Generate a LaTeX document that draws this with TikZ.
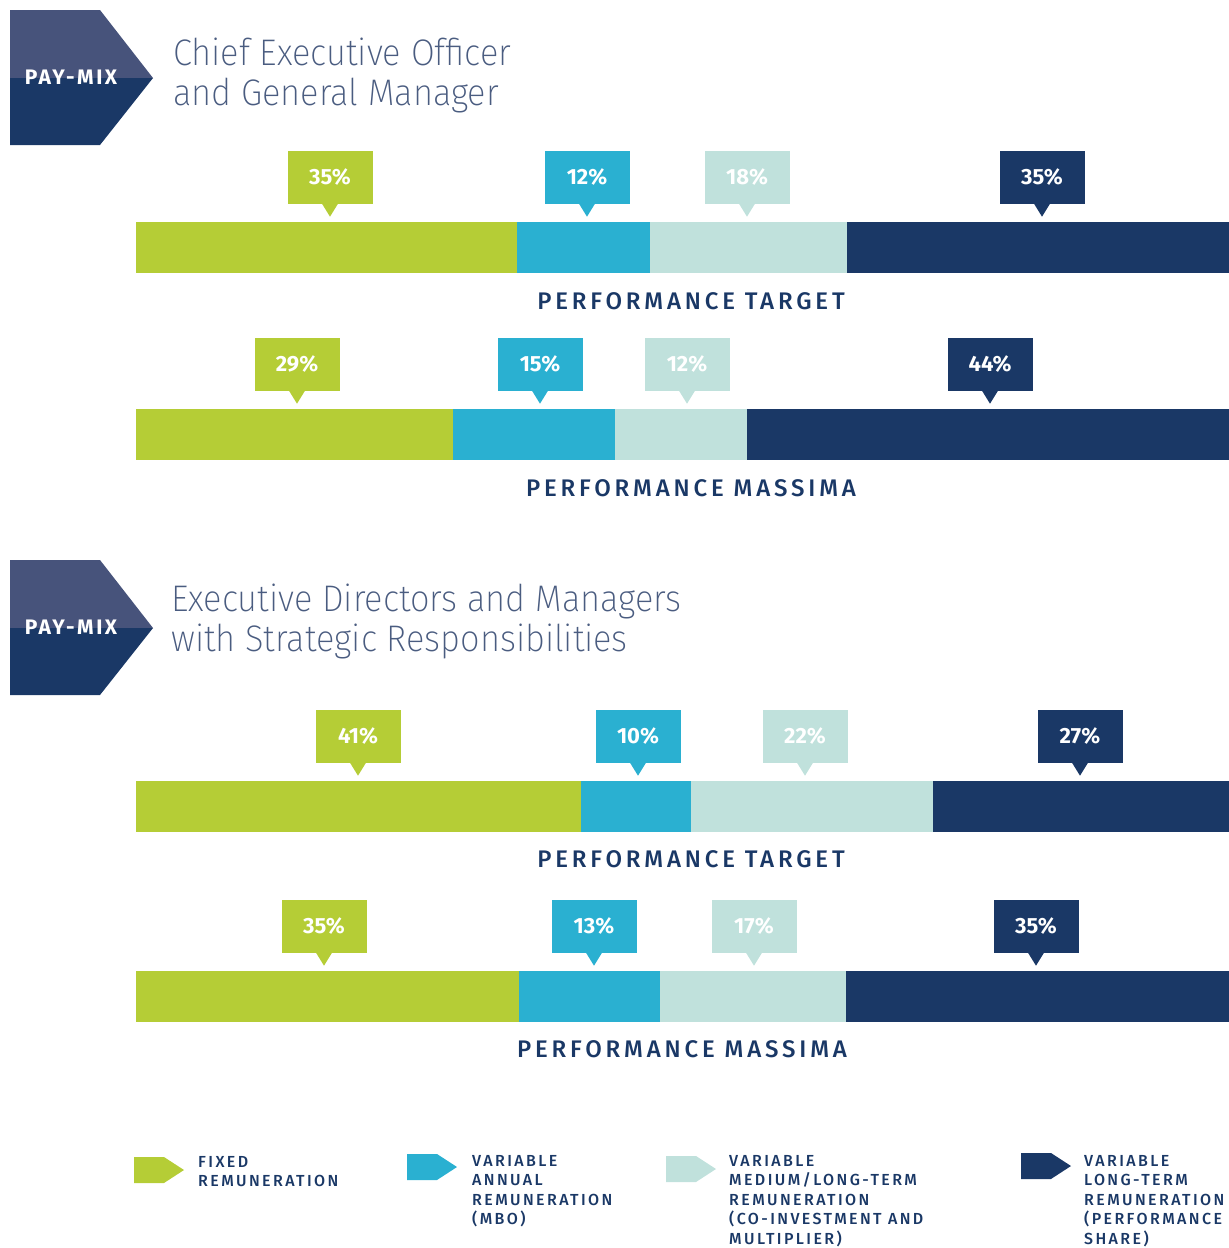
\documentclass[tikz,border=0pt]{standalone}
\usepackage{fontspec}
\setmainfont{Fira Sans}
\newfontfamily\thinfont{Fira Sans ExtraLight}[FakeStretch=0.93]
\newfontfamily\spacedfont{Fira Sans Medium}[LetterSpace=16]
\newfontfamily\legendfont{Fira Sans Medium}[LetterSpace=15]
\newfontfamily\badgefont{Fira Sans}[LetterSpace=12]
\definecolor{fixgreen}{HTML}{B5CD36}
\definecolor{mbocyan}{HTML}{2AB0D1}
\definecolor{mltpale}{HTML}{C0E1DC}
\definecolor{ltinavy}{HTML}{1A3866}
\definecolor{badgetop}{HTML}{47537B}
\definecolor{titlegray}{HTML}{4A5C80}
\tikzstyle{tag} = [rectangle, minimum width=85pt, minimum height=53pt, inner sep=0pt,
    text=white, font=\fontsize{22}{22}\selectfont\bfseries]
\tikzstyle{barlabel} = [text=ltinavy, inner sep=0pt, font=\fontsize{24}{24}\selectfont\spacedfont]
\tikzstyle{heading} = [text=titlegray, anchor=north west, align=left, inner sep=0pt,
    font=\fontsize{37}{40}\selectfont\thinfont]
\tikzstyle{badgetext} = [text=white, inner sep=0pt, font=\fontsize{21}{21}\selectfont\badgefont\bfseries]
\tikzstyle{legendtext} = [text=ltinavy, anchor=north west, align=left, inner sep=0pt,
    font=\fontsize{16}{19.5}\selectfont\legendfont]

\begin{document}
\begin{tikzpicture}[x=1pt, y=-1pt]
    \useasboundingbox (0,0) rectangle (1229,1248);
    % badges and headings
    \foreach \top/\nm in {10/ceo, 560/exe} {
        \fill[badgetop] (10,\top) -- (100,\top) -- (153,\top+68) -- (10,\top+68) -- cycle;
        \fill[ltinavy] (10,\top+68) -- (153,\top+68) -- (100,\top+135) -- (10,\top+135) -- cycle;
        \node[badgetext] (badge-\nm) at (71,\top+67) {PAY-MIX};
    }
    \node[heading] (head-ceo) at (173,38) {Chief Executive Officer\\and General Manager};
    \node[heading] (head-exe) at (171,584) {Executive Directors and Managers\\with Strategic Responsibilities};
    % bars
    \foreach \y/\a/\b/\c in {222/517/650/847, 409/453/615/747, 781/581/691/933, 971/519/660/846} {
        \fill[fixgreen] (136,\y) rectangle (\a,\y+51);
        \fill[mbocyan] (\a,\y) rectangle (\b,\y+51);
        \fill[mltpale] (\b,\y) rectangle (\c,\y+51);
        \fill[ltinavy] (\c,\y) rectangle (1229,\y+51);
    }
    % callouts
    \foreach \nm/\x/\y/\col/\val in {
        ceoTa/330/177/fixgreen/35, ceoTb/587/177/mbocyan/12, ceoTc/747/177/mltpale/18, ceoTd/1042/177/ltinavy/35,
        ceoMa/297/364/fixgreen/29, ceoMb/540/364/mbocyan/15, ceoMc/687/364/mltpale/12, ceoMd/990/364/ltinavy/44,
        exeTa/358/736/fixgreen/41, exeTb/638/736/mbocyan/10, exeTc/805/736/mltpale/22, exeTd/1080/736/ltinavy/27,
        exeMa/324/926/fixgreen/35, exeMb/594/926/mbocyan/13, exeMc/754/926/mltpale/17, exeMd/1036/926/ltinavy/35} {
        \node[tag, fill=\col] (\nm) at (\x,\y) {\val\%};
        \fill[\col] ([xshift=-8pt]\nm.south) -- ([xshift=8pt]\nm.south) -- ([yshift=-13pt]\nm.south) -- cycle;
    }
    % bar labels
    \node[barlabel] (lab-ceoT) at (691,301) {PERFORMANCE TARGET};
    \node[barlabel] (lab-ceoM) at (691,488) {PERFORMANCE MASSIMA};
    \node[barlabel] (lab-exeT) at (691,859) {PERFORMANCE TARGET};
    \node[barlabel] (lab-exeM) at (682,1049) {PERFORMANCE MASSIMA};
    % legend
    \foreach \x/\y/\col in {134/1157/fixgreen, 407/1154/mbocyan, 666/1156/mltpale, 1021/1153/ltinavy} {
        \fill[\col] (\x,\y) -- (\x+30,\y) -- (\x+50,\y+13) -- (\x+30,\y+26) -- (\x,\y+26) -- cycle;
    }
    \node[legendtext] (leg-fix) at (198,1156) {FIXED\\REMUNERATION};
    \node[legendtext] (leg-mbo) at (472,1155) {VARIABLE\\ANNUAL\\REMUNERATION\\(MBO)};
    \node[legendtext] (leg-mlt) at (729,1155) {VARIABLE\\MEDIUM/LONG-TERM\\REMUNERATION\\(CO-INVESTMENT AND\\MULTIPLIER)};
    \node[legendtext] (leg-lti) at (1084,1155) {VARIABLE\\LONG-TERM\\REMUNERATION\\(PERFORMANCE\\SHARE)};
\end{tikzpicture}
\end{document}
